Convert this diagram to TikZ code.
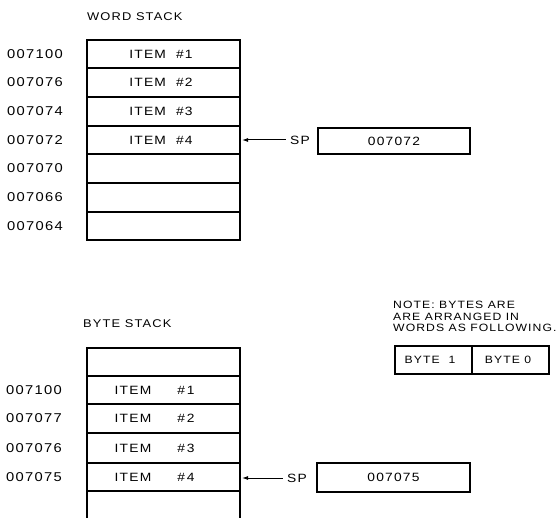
\documentclass[tikz,border=0pt]{standalone}
\usepackage{fontspec}
\setmainfont{Liberation Sans}[FakeStretch=1.15,LetterSpace=10]
\usetikzlibrary{arrows.meta}
\begin{document}
\begin{tikzpicture}[x=1pt,y=-1pt,
  cell/.style={draw,line width=1.4pt},
  lbl/.style={anchor=west,inner sep=0pt,font=\fontsize{12.8}{14}\selectfont},
  ttl/.style={anchor=west,inner sep=0pt,font=\fontsize{11.2}{13}\selectfont},
  txt/.style={inner sep=0pt,font=\fontsize{12}{14}\selectfont},
  note/.style={anchor=west,inner sep=0pt,font=\fontsize{10.6}{12}\selectfont},
  ptr/.style={line width=1pt,-{Latex[length=6pt,width=4pt]}}]
\useasboundingbox (0,0) rectangle (557,518);
% WORD STACK
\node[ttl] (wt) at (87,17) {WORD STACK};
\foreach \t/\b/\i/\l [count=\k] in {40/68/ITEM \ \#1/007100, 68/97/ITEM \ \#2/007076, 97/126/ITEM \ \#3/007074, 126/154/ITEM \ \#4/007072, 154/183//007070, 183/212//007066, 212/240//007064}{
  \draw[cell] (87,\t) rectangle (240,\b);
  \node[txt] (wi\k) at (161,{(\t+\b)/2}) {\i};
  \node[lbl] (wl\k) at (7,{(\t+\b)/2}) {\l};
}
\coordinate (wtip) at (242,140);
\node[txt] (wsp) at (300,140) {SP};
\draw[ptr] (wsp.west) ++(-4,0) -- (wtip);
\node[draw,line width=1.4pt,minimum width=152pt,minimum height=26pt,inner sep=0pt,font=\fontsize{12}{14}\selectfont] (wbox) at (394,141) {007072};
% BYTE STACK
\node[ttl] (bt) at (83,324) {BYTE STACK};
\draw[cell] (87,348) rectangle (240,376);
\foreach \t/\b/\n/\l [count=\k] in {376/404/1/007100, 404/433/2/007077, 433/463/3/007076, 463/491/4/007075}{
  \draw[cell] (87,\t) rectangle (240,\b);
  \node[txt] (bi\k) at (133,{(\t+\b)/2}) {ITEM};
  \node[txt] (bn\k) at (186,{(\t+\b)/2}) {\#\,\n};
  \node[lbl] (bl\k) at (6,{(\t+\b)/2}) {\l};
}
\draw[cell] (87,518) -- (87,491) -- (240,491) -- (240,518);
\coordinate (btip) at (242,478);
\node[txt] (bsp) at (297,478) {SP};
\draw[ptr] (bsp.west) ++(-4,0) -- (btip);
\node[draw,line width=1.4pt,minimum width=153pt,minimum height=29pt,inner sep=0pt,font=\fontsize{12}{14}\selectfont] (bbox) at (393.5,477.5) {007075};
% NOTE
\node[note] (n1) at (393,305) {NOTE: BYTES ARE};
\node[note] (n2) at (393,317) {ARE ARRANGED IN};
\node[note] (n3) at (393,328) {WORDS AS FOLLOWING.};
\draw[cell] (395,346) rectangle (549,374);
\draw[cell] (472,346) -- (472,374);
\node[note,anchor=center] (b1) at (430,360) {BYTE \ 1};
\node[note,anchor=center] (b0) at (508,360) {BYTE 0};
\end{tikzpicture}
\end{document}
